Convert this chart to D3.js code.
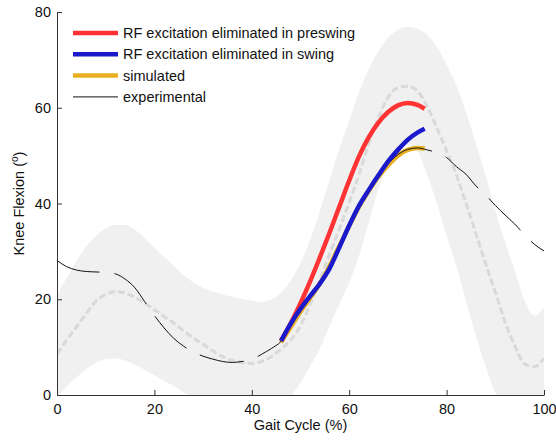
<!DOCTYPE html>
<html>
<head>
<meta charset="utf-8">
<script src="https://cdn.jsdelivr.net/npm/d3@7"></script>
<style>
  body { margin: 0; background: #fff; }
  svg { display: block; font-family: "Liberation Sans", Arial, sans-serif; }
  .axis path, .axis line { stroke: #333; }
  .axis text { font-size: 14.5px; fill: #111; font-family: "Liberation Sans", Arial, sans-serif; }
</style>
</head>
<body>
<div id="chart"></div>
<script>
// gait cycle grid for band / experimental data
const gaitX = [0, 2, 4, 6, 8, 10, 12, 14, 16, 18, 20, 22, 24, 26, 28, 30, 32, 34, 36, 38, 40,
    42, 44, 46, 48, 50, 52, 54, 56, 58, 60, 62, 64, 66, 68, 70, 72, 74, 76, 78, 80,
    82, 84, 86, 88, 90, 92, 94, 96, 98, 100];

const meanKnee = [8.6, 11.5, 14.2, 17.0, 19.6, 21.0, 21.6, 21.3, 20.4, 19.2, 17.8, 16.4, 15.0, 13.4, 11.9, 10.6, 9.2, 8.0, 7.2, 6.8, 6.6,
    7.0, 8.0, 9.6, 11.5, 14.5, 19.0, 24.0, 29.5, 34.8, 40.2, 46.0, 52.5, 58.0, 62.2, 64.2, 64.5, 63.5, 60.3, 55.8, 51.0,
    46.0, 40.0, 33.8, 27.5, 21.5, 15.3, 10.3, 6.5, 5.9, 7.7];

const upperKnee = [21.0, 24.5, 28.0, 31.0, 33.3, 34.8, 35.5, 35.5, 34.5, 32.8, 30.8, 28.8, 26.9, 25.0, 23.5, 22.4, 21.6, 21.0, 20.5, 20.1, 19.7,
    19.4, 20.0, 21.3, 23.9, 27.5, 32.5, 38.5, 45.0, 51.5, 57.3, 63.2, 68.0, 71.8, 74.6, 76.3, 76.9, 76.5, 75.3, 72.8, 69.0,
    64.7, 59.0, 52.6, 46.0, 38.6, 32.0, 26.0, 19.8, 16.6, 18.4];

const lowerKnee = [-0.5, 1.8, 3.7, 5.4, 6.8, 7.5, 7.6, 7.2, 6.3, 5.2, 4.1, 2.9, 1.9, 0.5, -0.5, -1.5, -3.0, -4.5, -6.0, -6.5, -6.5,
    -5.5, -4.0, -2.0, -0.3, 2.5, 6.0, 9.8, 14.5, 19.0, 23.5, 29.0, 36.0, 43.0, 48.5, 51.5, 52.2, 51.0, 46.0, 40.0, 33.2,
    27.0, 19.5, 12.5, 6.0, 0.5, -3.0, -5.0, -6.5, -5.0, -3.0];

const experimental = [28.1, 26.8, 26.1, 25.8, 25.7, 25.6, 25.3, 24.2, 22.4, 19.5, 16.6, 14.0, 11.8, 10.2, 9.0, 8.1, 7.5, 7.0, 6.8, 7.0, 7.4,
    8.5, 9.7, 11.2, 14.2, 17.4, 20.3, 23.3, 27.0, 31.3, 35.3, 39.3, 42.7, 45.7, 48.3, 50.2, 51.3, 51.6, 51.2, 50.6, 49.6,
    47.7, 46.1, 43.7, 41.8, 39.6, 37.6, 35.7, 33.5, 31.5, 30.1];

// simulated portion of the cycle
const simX = [46, 48, 50, 52, 54, 56, 58, 60, 62, 64, 66, 68, 70, 72, 74, 75.5];
const simulated = [11.0, 14.2, 17.4, 20.3, 23.3, 27.0, 31.2, 35.3, 39.3, 42.6, 45.6, 48.0, 50.0, 51.2, 51.6, 51.5];
const noRfPreswing = [11.3, 15.0, 19.2, 23.8, 28.8, 34.0, 39.4, 44.8, 49.8, 53.8, 56.9, 59.1, 60.5, 61.0, 60.6, 59.8];
const noRfSwing = [11.3, 14.9, 18.0, 20.7, 23.3, 26.5, 30.9, 35.4, 39.5, 42.8, 45.9, 48.8, 51.2, 53.3, 54.8, 55.6];

const legendLabels = ["RF excitation eliminated in preswing", "RF excitation eliminated in swing", "simulated", "experimental"];

const W = 556, H = 440;
const margin = { top: 12, right: 12, bottom: 45, left: 57 };

const svg = d3.select("#chart").append("svg")
    .attr("width", W)
    .attr("height", H);

const x = d3.scaleLinear().domain([0, 100]).range([margin.left, W - margin.right]);
const y = d3.scaleLinear().domain([0, 80]).range([H - margin.bottom, margin.top]);

svg.append("defs").append("clipPath").attr("id", "plotclip")
    .append("rect")
    .attr("x", x(0)).attr("y", y(80))
    .attr("width", x(100) - x(0)).attr("height", y(0) - y(80));

const plot = svg.append("g").attr("clip-path", "url(#plotclip)");

// +/- band
const band = d3.area()
    .x((d, i) => x(gaitX[i]))
    .y0((d, i) => y(lowerKnee[i]))
    .y1((d, i) => y(upperKnee[i]))
    .curve(d3.curveMonotoneX);

plot.append("path")
    .datum(gaitX)
    .attr("d", band)
    .attr("fill", "#f0f0f0");

const lineOn = xs => d3.line()
    .x((d, i) => x(xs[i]))
    .y(d => y(d))
    .curve(d3.curveMonotoneX);

// mean
plot.append("path")
    .datum(meanKnee)
    .attr("d", lineOn(gaitX))
    .attr("fill", "none")
    .attr("stroke", "#d9d9d9")
    .attr("stroke-width", 3)
    .attr("stroke-dasharray", "7,3");

plot.append("path")
    .datum(simulated)
    .attr("d", lineOn(simX))
    .attr("fill", "none")
    .attr("stroke", "#e8b020")
    .attr("stroke-width", 4.5);

plot.append("path")
    .datum(experimental)
    .attr("d", lineOn(gaitX))
    .attr("fill", "none")
    .attr("stroke", "#111")
    .attr("stroke-width", 1)
    .attr("stroke-dasharray", "45,15");

plot.append("path")
    .datum(noRfPreswing)
    .attr("d", lineOn(simX))
    .attr("fill", "none")
    .attr("stroke", "#ff3333")
    .attr("stroke-width", 4.5);

plot.append("path")
    .datum(noRfSwing)
    .attr("d", lineOn(simX))
    .attr("fill", "none")
    .attr("stroke", "#1a1acc")
    .attr("stroke-width", 4.5);

// axes (ticks pointing inward, no box)
const xAxis = svg.append("g")
    .attr("class", "axis")
    .attr("transform", `translate(0,${y(0)})`)
    .call(d3.axisBottom(x).tickValues([0, 20, 40, 60, 80, 100]).tickSize(-5).tickSizeOuter(0).tickPadding(7));
xAxis.selectAll(".tick text").attr("dy", "0.85em");

svg.append("g")
    .attr("class", "axis")
    .attr("transform", `translate(${x(0)},0)`)
    .call(d3.axisLeft(y).tickValues([0, 20, 40, 60, 80]).tickSize(-5).tickSizeOuter(0).tickPadding(6));

svg.append("text")
    .attr("x", x(50))
    .attr("y", 430)
    .attr("text-anchor", "middle")
    .style("font-size", "14.5px")
    .attr("fill", "#111")
    .text("Gait Cycle (%)");

const yLabel = svg.append("text")
    .attr("transform", `translate(24,${y(40)}) rotate(-90)`)
    .attr("text-anchor", "middle")
    .attr("fill", "#111")
    .style("font-size", "14.5px");
yLabel.append("tspan").text("Knee Flexion (");
yLabel.append("tspan").attr("dy", "-6").style("font-size", "10px").text("o");
yLabel.append("tspan").attr("dy", "6").text(")");

// legend
const legendColors = ["#ff3333", "#1a1acc", "#e8b020", "#111"];
const legendWidths = [4.5, 4.5, 4.5, 1];
const legend = svg.append("g");
legendLabels.forEach((label, i) => {
    const ly = 33 + i * 21.3;
    legend.append("line")
        .attr("x1", 73).attr("x2", 118)
        .attr("y1", ly).attr("y2", ly)
        .attr("stroke", legendColors[i])
        .attr("stroke-width", legendWidths[i]);
    legend.append("text")
        .attr("x", 123)
        .attr("y", ly + 5)
        .style("font-size", "14.5px")
        .attr("fill", "#111")
        .text(label);
});
</script>
</body>
</html>
